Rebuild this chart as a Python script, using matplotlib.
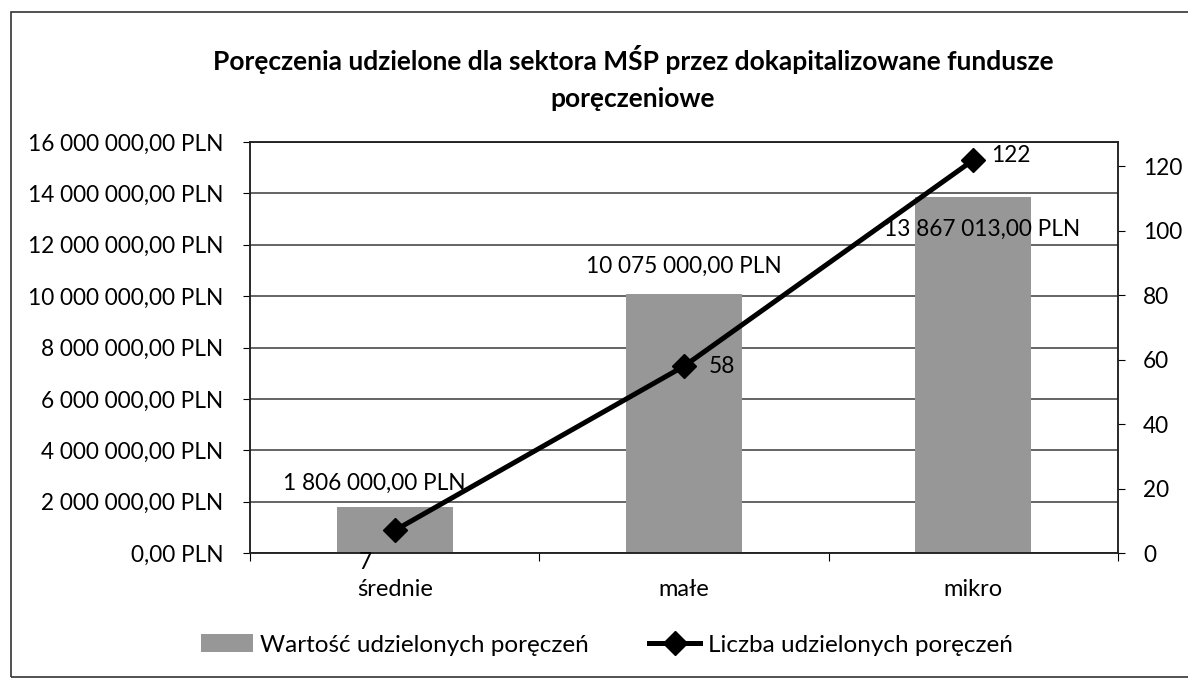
import matplotlib.pyplot as plt
from matplotlib.patches import Rectangle
from matplotlib.ticker import FuncFormatter, MultipleLocator

kategorie = ["średnie", "małe", "mikro"]
wartosc = [1806000.00, 10075000.00, 13867013.00]
liczba = [7, 58, 122]

plt.rcParams["font.family"] = ["Lato", "DejaVu Sans"]
plt.rcParams["font.size"] = 16.3


def pln(v, pos=None):
    s = f"{v:,.2f}".replace(",", " ").replace(".", ",")
    return s + " PLN"


fig = plt.figure(figsize=(11.88, 6.79), dpi=100)
ax = fig.add_axes([250 / 1188, 1 - 553 / 679, 868 / 1188, 411 / 679])
ax2 = ax.twinx()

x = range(len(kategorie))
bary = ax.bar(x, wartosc, width=0.4, color="#979797", zorder=2,
              label="Wartość udzielonych poręczeń")
ax.set_xlim(-0.5, 2.5)
ax.set_ylim(0, 16000000)
ax.yaxis.set_major_locator(MultipleLocator(2000000))
ax.yaxis.set_major_formatter(FuncFormatter(pln))
ax.grid(axis="y", color="#3a3a3a", linewidth=1.1, zorder=0)
ax.set_axisbelow(True)

# etykiety kategorii pod osią, kreski między kategoriami
ax.set_xticks([-0.5, 0.5, 1.5, 2.5])
ax.set_xticklabels([])
ax.set_xticks(list(x), minor=True)
ax.set_xticklabels(kategorie, minor=True, fontsize=17)
ax.tick_params(axis="x", which="major", length=6, direction="out")
ax.tick_params(axis="x", which="minor", length=0, pad=19)
ax.tick_params(axis="y", length=5, pad=14)

# wartości słupków
przes = [(-0.07, 0.9e6), (0.0, 1.1e6), (0.03, -1.25e6)]
for i, v in enumerate(wartosc):
    dx, dy = przes[i]
    ax.text(i + dx, v + dy, pln(v), ha="center", va="center", zorder=5)

linia, = ax2.plot(x, liczba, color="black", linewidth=3.6, marker="D",
                  markersize=12, zorder=4, label="Liczba udzielonych poręczeń")
ax2.set_ylim(0, 127.6)
ax2.set_yticks(range(0, 121, 20))
ax2.tick_params(axis="y", length=5, pad=13)

poz = [(-0.1, -10), (0.13, 0), (0.13, 1.5)]
for i, v in enumerate(liczba):
    dx, dy = poz[i]
    ax2.text(i + dx, v + dy, str(v), ha="center", va="center", zorder=5)

for s in ax.spines.values():
    s.set_color("#222222")
    s.set_linewidth(1.1)
for s in ax2.spines.values():
    s.set_color("#222222")
    s.set_linewidth(1.1)

fig.text(633 / 1188, 1 - 60 / 679,
         "Poręczenia udzielone dla sektora MŚP przez dokapitalizowane fundusze",
         ha="center", va="center", fontsize=19, fontweight="bold")
fig.text(633 / 1188, 1 - 99 / 679, "poręczeniowe",
         ha="center", va="center", fontsize=19, fontweight="bold")

fig.legend(handles=[bary, linia], loc="center",
           bbox_to_anchor=(607 / 1188, 1 - 645 / 679), ncol=2, frameon=False,
           handlelength=2.1, handletextpad=0.3, columnspacing=2.5,
           fontsize=17.5)

fig.patches.append(Rectangle((11 / 1188, 1 - 677 / 679), 1.2, 665 / 679,
                             transform=fig.transFigure, fill=False,
                             edgecolor="#333333", linewidth=1.2))

fig.savefig("out.png", dpi=100)
